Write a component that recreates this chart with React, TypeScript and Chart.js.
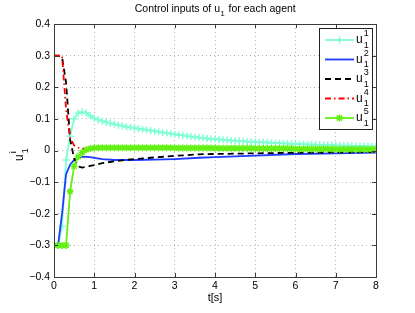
import React, { useEffect, useRef } from "react";
import { Chart, registerables } from "chart.js";

Chart.register(...registerables);

// ---- data ----
const tFine = [
  0, 0.1, 0.2, 0.3, 0.4, 0.5, 0.6, 0.7, 0.8, 0.9,
  1, 1.1, 1.2, 1.3, 1.4, 1.5, 1.6, 1.7, 1.8, 1.9,
  2, 2.1, 2.2, 2.3, 2.4, 2.5, 2.6, 2.7, 2.8, 2.9,
  3, 3.1, 3.2, 3.3, 3.4, 3.5, 3.6, 3.7, 3.8, 3.9,
  4, 4.1, 4.2, 4.3, 4.4, 4.5, 4.6, 4.7, 4.8, 4.9,
  5, 5.1, 5.2, 5.3, 5.4, 5.5, 5.6, 5.7, 5.8, 5.9,
  6, 6.1, 6.2, 6.3, 6.4, 6.5, 6.6, 6.7, 6.8, 6.9,
  7, 7.1, 7.2, 7.3, 7.4, 7.5, 7.6, 7.7, 7.8, 7.9,
  8,
];

const u1Agent1 = [
  -0.3, -0.3, -0.24, -0.03, 0.045, 0.1, 0.118, 0.122, 0.119, 0.11,
  0.102, 0.097, 0.093, 0.089, 0.086, 0.083, 0.08, 0.078, 0.075, 0.073,
  0.071, 0.069, 0.067, 0.065, 0.063, 0.061, 0.059, 0.057, 0.055, 0.053,
  0.051, 0.05, 0.048, 0.046, 0.044, 0.043, 0.041, 0.04, 0.038, 0.037,
  0.036, 0.035, 0.034, 0.033, 0.032, 0.031, 0.03, 0.029, 0.028, 0.028,
  0.027, 0.026, 0.026, 0.025, 0.024, 0.024, 0.023, 0.022, 0.022, 0.021,
  0.021, 0.02, 0.02, 0.019, 0.019, 0.018, 0.018, 0.017, 0.017, 0.017,
  0.016, 0.016, 0.015, 0.015, 0.015, 0.014, 0.014, 0.014, 0.013, 0.013,
  0.013,
];

const u1Agent5 = [
  -0.3, -0.3, -0.3, -0.3, -0.13, -0.05, -0.02, -0.006, 0.002, 0.006,
  0.008, 0.009, 0.009, 0.009, 0.009, 0.009, 0.009, 0.009, 0.009, 0.009,
  0.009, 0.009, 0.009, 0.009, 0.009, 0.009, 0.009, 0.009, 0.009, 0.009,
  0.008, 0.008, 0.008, 0.008, 0.008, 0.008, 0.008, 0.008, 0.008, 0.008,
  0.007, 0.007, 0.007, 0.007, 0.007, 0.007, 0.007, 0.007, 0.007, 0.007,
  0.006, 0.006, 0.006, 0.006, 0.006, 0.006, 0.006, 0.006, 0.006, 0.006,
  0.005, 0.005, 0.005, 0.005, 0.005, 0.005, 0.005, 0.005, 0.005, 0.005,
  0.004, 0.004, 0.004, 0.004, 0.004, 0.004, 0.004, 0.004, 0.004, 0.004,
  0.004,
];

const tCoarse = [0, 0.1, 0.2, 0.3, 0.4, 0.5, 0.6, 0.7, 0.8, 0.9, 1, 1.2, 1.5, 2, 2.5, 3, 3.6, 4, 5, 6, 7, 8];

const u1Agent2 = [
  -0.3, -0.3, -0.2, -0.075, -0.045, -0.03, -0.022, -0.02, -0.02, -0.021, -0.023,
  -0.027, -0.03, -0.03, -0.029, -0.027, -0.023, -0.021, -0.016, -0.011, -0.009, -0.007,
];

const u1Agent3 = [
  0.3, 0.3, 0.295, 0.215, 0.035, -0.025, -0.05, -0.054, -0.052, -0.049, -0.046,
  -0.04, -0.034, -0.027, -0.022, -0.017, -0.012, -0.011, -0.009, -0.007, -0.006, -0.005,
];

const u1Agent4 = [
  0.3, 0.3, 0.3, 0.13, 0.04, 0.016, 0.009, 0.006, 0.005, 0.005, 0.005,
  0.005, 0.005, 0.005, 0.005, 0.005, 0.005, 0.005, 0.005, 0.004, 0.004, 0.004,
];

const agentIds = ["1", "2", "3", "4", "5"];
const titleParts = ["Control inputs of u", "1", " for each agent"];
const xLabel = "t[s]";

const FONT = "'Liberation Sans', Arial, Helvetica, sans-serif";

const toXY = (ts: number[], vs: number[]) => ts.map((t, i) => ({ x: t, y: vs[i] }));

const styles = [
  { color: "rgb(127,255,212)", dash: [] as number[], point: "cross" },
  { color: "rgb(30,60,255)", dash: [] as number[], point: "none" },
  { color: "#000000", dash: [6, 4], point: "none" },
  { color: "#ff0000", dash: [6, 3, 1.5, 3], point: "none" },
  { color: "rgb(100,240,20)", dash: [] as number[], point: "star" },
];

function drawU(ctx: CanvasRenderingContext2D, x: number, y: number, sup: string, size: number) {
  ctx.font = `${size}px ${FONT}`;
  ctx.textAlign = "left";
  ctx.textBaseline = "alphabetic";
  ctx.fillText("u", x, y);
  const w = ctx.measureText("u").width;
  const small = Math.round(size * 0.72);
  ctx.font = `${small}px ${FONT}`;
  ctx.fillText(sup, x + w + 1, y - size * 0.55);
  ctx.fillText("1", x + w + 1, y + size * 0.38);
}

const overlay = {
  id: "overlay",
  afterDraw(chart: any) {
    const { ctx, chartArea: a, scales } = chart;
    ctx.save();
    // frame
    ctx.strokeStyle = "#3a3a3a";
    ctx.lineWidth = 1;
    ctx.setLineDash([]);
    ctx.strokeRect(Math.round(a.left) + 0.5, Math.round(a.top) + 0.5, Math.round(a.right - a.left), Math.round(a.bottom - a.top));
    // inward ticks
    const tl = 4;
    scales.x.ticks.forEach((t: any) => {
      const px = Math.round(scales.x.getPixelForValue(t.value)) + 0.5;
      ctx.beginPath();
      ctx.moveTo(px, a.bottom);
      ctx.lineTo(px, a.bottom - tl);
      ctx.moveTo(px, a.top);
      ctx.lineTo(px, a.top + tl);
      ctx.stroke();
    });
    scales.y.ticks.forEach((t: any) => {
      const py = Math.round(scales.y.getPixelForValue(t.value)) + 0.5;
      ctx.beginPath();
      ctx.moveTo(a.left, py);
      ctx.lineTo(a.left + tl, py);
      ctx.moveTo(a.right, py);
      ctx.lineTo(a.right - tl, py);
      ctx.stroke();
    });

    ctx.fillStyle = "#000";
    // title
    {
      const size = 10.5;
      ctx.font = `${size}px ${FONT}`;
      const w0 = ctx.measureText(titleParts[0]).width;
      const w2 = ctx.measureText(titleParts[2]).width;
      ctx.font = `${size * 0.72}px ${FONT}`;
      const w1 = ctx.measureText(titleParts[1]).width + 1;
      const total = w0 + w1 + w2;
      const cx = (a.left + a.right) / 2;
      let x = cx - total / 2;
      const y = 12;
      ctx.textAlign = "left";
      ctx.textBaseline = "alphabetic";
      ctx.font = `${size}px ${FONT}`;
      ctx.fillText(titleParts[0], x, y);
      x += w0 + 0.5;
      ctx.font = `${size * 0.72}px ${FONT}`;
      ctx.fillText(titleParts[1], x, y + 3.5);
      x += w1;
      ctx.font = `${size}px ${FONT}`;
      ctx.fillText(titleParts[2], x, y);
    }
    // x label
    ctx.font = `11px ${FONT}`;
    ctx.textAlign = "center";
    ctx.textBaseline = "middle";
    ctx.fillText(xLabel, (a.left + a.right) / 2, 298);
    // y label
    ctx.save();
    ctx.translate(23, 157);
    ctx.rotate(-Math.PI / 2);
    drawU(ctx, -4, 0, "i", 12);
    ctx.restore();

    // legend
    const bx = 319.5, by = 28.5, bw = 53, bh = 101;
    ctx.fillStyle = "#fff";
    ctx.fillRect(bx, by, bw, bh);
    ctx.strokeStyle = "#222";
    ctx.lineWidth = 1;
    ctx.strokeRect(bx, by, bw, bh);
    const rowY = [40, 59.5, 79, 98.5, 118];
    styles.forEach((s, i) => {
      const y = rowY[i];
      ctx.save();
      ctx.strokeStyle = s.color;
      ctx.lineWidth = 1.8;
      ctx.setLineDash(s.dash);
      ctx.beginPath();
      ctx.moveTo(325, y);
      ctx.lineTo(354, y);
      ctx.stroke();
      ctx.setLineDash([]);
      if (s.point === "cross" || s.point === "star") {
        const r = 3.5, mx = 339.5;
        ctx.lineWidth = 1.5;
        ctx.beginPath();
        ctx.moveTo(mx - r, y);
        ctx.lineTo(mx + r, y);
        ctx.moveTo(mx, y - r);
        ctx.lineTo(mx, y + r);
        if (s.point === "star") {
          const d = r * 0.75;
          ctx.moveTo(mx - d, y - d);
          ctx.lineTo(mx + d, y + d);
          ctx.moveTo(mx - d, y + d);
          ctx.lineTo(mx + d, y - d);
        }
        ctx.stroke();
      }
      ctx.restore();
      ctx.fillStyle = "#000";
      drawU(ctx, 356, y + 3, agentIds[i], 12);
    });
    ctx.restore();
  },
};

export default function App() {
  const ref = useRef<HTMLCanvasElement>(null);
  useEffect(() => {
    if (!ref.current) return;
    const series = [
      toXY(tFine, u1Agent1),
      toXY(tCoarse, u1Agent2),
      toXY(tCoarse, u1Agent3),
      toXY(tCoarse, u1Agent4),
      toXY(tFine, u1Agent5),
    ];
    const chart = new Chart(ref.current, {
      type: "line",
      data: {
        datasets: series.map((d, i) => ({
          label: "u" + agentIds[i],
          data: d,
          borderColor: styles[i].color,
          backgroundColor: styles[i].color,
          borderWidth: 1.8,
          borderDash: styles[i].dash,
          pointStyle: styles[i].point === "none" ? false : (styles[i].point as any),
          pointRadius: styles[i].point === "none" ? 0 : 3.5,
          pointBorderWidth: 1.5,
          pointBorderColor: styles[i].color,
          tension: 0,
          fill: false,
          order: 5 - i,
        })),
      },
      options: {
        responsive: false,
        animation: false,
        devicePixelRatio: 1,
        layout: { padding: { top: 24, right: 39, left: 0, bottom: 0 } },
        plugins: { legend: { display: false }, title: { display: false }, tooltip: { enabled: false } },
        scales: {
          x: {
            type: "linear",
            min: 0,
            max: 8,
            ticks: { stepSize: 1, color: "#000", font: { family: FONT, size: 10.5 }, padding: 3, maxRotation: 0 },
            grid: { color: "#b4b4b4", lineWidth: 1, drawTicks: false },
            border: { display: false, dash: [1, 3] },
            afterFit: (s: any) => {
              s.height = 36;
            },
          },
          y: {
            min: -0.4,
            max: 0.4,
            ticks: {
              stepSize: 0.1,
              color: "#000",
              font: { family: FONT, size: 10.5 },
              padding: 4,
              callback: (v: any) => {
                const n = Number(Number(v).toFixed(1));
                return n < 0 ? "\u2212" + Math.abs(n) : String(n);
              },
            },
            grid: { color: "#b4b4b4", lineWidth: 1, drawTicks: false },
            border: { display: false, dash: [1, 3] },
            afterFit: (s: any) => {
              s.width = 54;
            },
          },
        },
      },
      plugins: [overlay],
    });
    return () => chart.destroy();
  }, []);
  return (
    <div style={{ position: "absolute", left: 0, top: 0, width: 415, height: 313, background: "#fff" }}>
      <canvas ref={ref} width={415} height={313} style={{ display: "block" }} />
    </div>
  );
}
